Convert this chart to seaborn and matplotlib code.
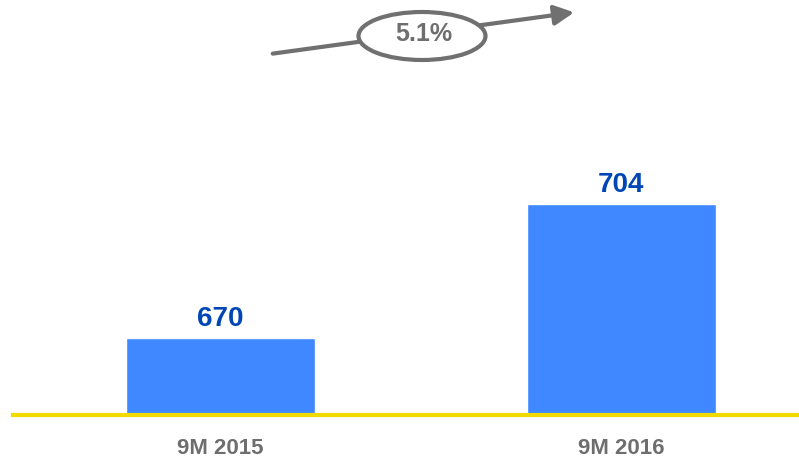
import matplotlib
matplotlib.use("Agg")
import matplotlib.pyplot as plt
import seaborn as sns
import pandas as pd
from matplotlib.patches import Ellipse, FancyArrowPatch

categories = ["9M 2015", "9M 2016"]
values = [670, 704]
growth_label = "5.1%"

sns.set_theme(style="white")
plt.rcParams['font.family'] = ['Liberation Sans', 'DejaVu Sans']

df = pd.DataFrame({"period": categories, "value": values})

fig = plt.figure(figsize=(7.99, 4.61), dpi=100)
ax = fig.add_axes([13/799, 46.5/461, 786/799, 414.5/461])

sns.barplot(data=df, x="period", y="value", color="#3F88FF", saturation=1,
            width=0.47, ax=ax)

ax.set_xlim(-0.517, 1.443)
ax.set_ylim(650.6, 755.8)
for s in ["top", "right", "left"]:
    ax.spines[s].set_visible(False)
ax.spines["bottom"].set_color("#F0DA00")
ax.spines["bottom"].set_linewidth(3)
ax.set_yticks([])
ax.set_xlabel("")
ax.set_ylabel("")
ax.tick_params(axis="x", length=0, pad=17)
ax.set_xticks(range(len(categories)))
ax.set_xticklabels(categories, fontsize=16, fontweight="bold",
                   color="#6E6E6E")

for i, v in enumerate(values):
    ax.annotate(str(v), (i, v), xytext=(0, 4.5), textcoords="offset points",
                ha="center", va="bottom", fontsize=20, fontweight="bold",
                color="#0047B5")

# growth arrow in figure pixel coordinates
def fx(px):
    return px / 799
def fy(py):
    return 1 - py / 461

arrow = FancyArrowPatch((fx(270), fy(54)), (fx(577), fy(12)),
                        transform=fig.transFigure, arrowstyle="-|>",
                        mutation_scale=30, color="#707070", lw=3)
fig.patches.append(arrow)
ell = Ellipse((fx(422), fy(36)), width=127/799, height=48/461,
              transform=fig.transFigure, facecolor="white",
              edgecolor="#707070", lw=3)
fig.patches.append(ell)
fig.text(fx(424), fy(34), growth_label, ha="center", va="center",
         fontsize=18, fontweight="bold", color="#6E6E6E")

fig.savefig("out.png", dpi=100)
